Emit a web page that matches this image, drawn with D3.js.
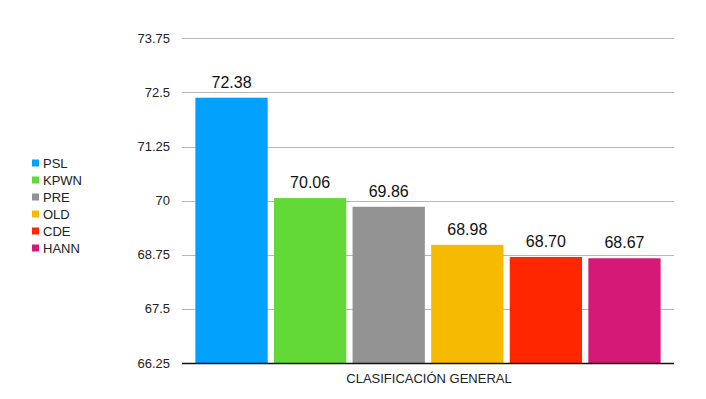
<!DOCTYPE html>
<html>
<head>
<meta charset="utf-8">
<script src="https://cdn.jsdelivr.net/npm/d3@7"></script>
<style>
  html, body { margin: 0; padding: 0; background: #fff; }
  svg { display: block; font-family: "Liberation Sans", Arial, sans-serif; }
</style>
</head>
<body>
<svg id="chart" width="706" height="399"></svg>
<script>
const categories = ["PSL", "KPWN", "PRE", "OLD", "CDE", "HANN"];
const values = [72.38, 70.06, 69.86, 68.98, 68.70, 68.67];
const colors = ["#02a1fe", "#62d936", "#939393", "#f6bb00", "#ff2600", "#d41a76"];
const yTicks = [66.25, 67.5, 68.75, 70, 71.25, 72.5, 73.75];
const yTickLabels = ["66.25", "67.5", "68.75", "70", "71.25", "72.5", "73.75"];
const xAxisTitle = "CLASIFICACIÓN GENERAL";

(function () {
const svg = d3.select("#chart");
const mLeft = 182, mRight = 674, mTop = 38.4, mBottom = 363;

const y = d3.scaleLinear().domain([66.25, 73.75]).range([mBottom, mTop]);
const x = d3.scaleBand().domain(categories).range([mLeft, mRight])
  .paddingInner(0.08).paddingOuter(0.17);

// gridlines
svg.append("g").selectAll("line").data(yTicks.slice(1)).join("line")
  .attr("x1", mLeft).attr("x2", mRight)
  .attr("y1", d => Math.round(y(d)) + 0.5).attr("y2", d => Math.round(y(d)) + 0.5)
  .attr("stroke", "#b7b7b7").attr("stroke-width", 1);

// y tick labels
svg.append("g").selectAll("text").data(yTicks).join("text")
  .attr("x", 170).attr("y", d => y(d))
  .attr("dy", "0.35em")
  .attr("text-anchor", "end")
  .attr("font-size", 13)
  .attr("fill", "#222")
  .text((d, i) => yTickLabels[i]);

// bars
svg.append("g").selectAll("rect").data(categories).join("rect")
  .attr("x", d => x(d))
  .attr("width", x.bandwidth())
  .attr("y", (d, i) => y(values[i]))
  .attr("height", (d, i) => mBottom - y(values[i]))
  .attr("fill", (d, i) => colors[i]);

// value labels
svg.append("g").selectAll("text").data(categories).join("text")
  .attr("x", d => x(d) + x.bandwidth() / 2)
  .attr("y", (d, i) => y(values[i]) - 10)
  .attr("text-anchor", "middle")
  .attr("font-size", 16)
  .attr("fill", "#111")
  .text((d, i) => values[i].toFixed(2));

// baseline
svg.append("line")
  .attr("x1", mLeft).attr("x2", mRight)
  .attr("y1", mBottom + 0.5).attr("y2", mBottom + 0.5)
  .attr("stroke", "#111").attr("stroke-width", 1.3);

// x axis title
svg.append("text")
  .attr("x", 429).attr("y", 383)
  .attr("text-anchor", "middle")
  .attr("font-size", 13)
  .attr("fill", "#222")
  .text(xAxisTitle);

// legend
const legend = svg.append("g").selectAll("g").data(categories).join("g")
  .attr("transform", (d, i) => `translate(32, ${163 + i * 17})`);
legend.append("rect")
  .attr("x", 0).attr("y", -3.5).attr("width", 7).attr("height", 7)
  .attr("fill", (d, i) => colors[i]);
legend.append("text")
  .attr("x", 11).attr("y", 0).attr("dy", "0.36em")
  .attr("font-size", 13).attr("fill", "#222")
  .text(d => d);
})();
</script>
</body>
</html>
